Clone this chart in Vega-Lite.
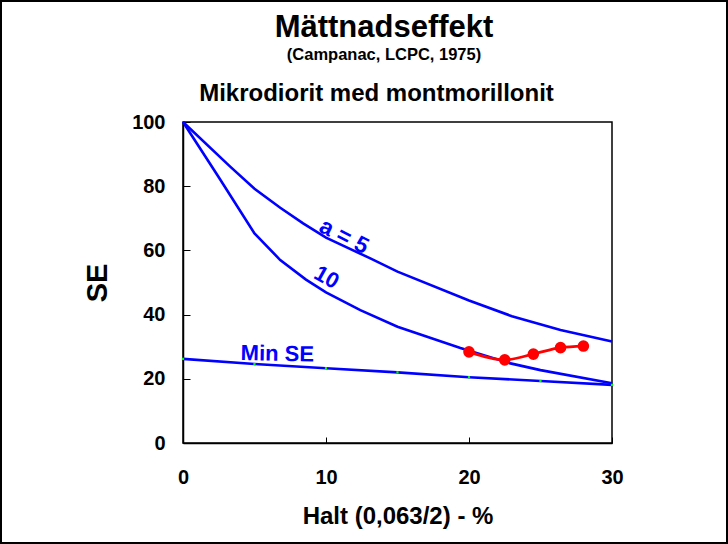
{
  "$schema": "https://vega.github.io/schema/vega-lite/v6.json",
  "width": 726,
  "height": 542,
  "padding": 1,
  "autosize": {"type": "none"},
  "background": "white",
  "config": {
    "view": {"stroke": "black", "strokeWidth": 2},
    "font": "Liberation Sans",
    "axis": {"labelFont": "Liberation Sans", "titleFont": "Liberation Sans", "labelFontWeight": "bold", "titleFontWeight": "bold", "labelColor": "black", "titleColor": "black", "domainColor": "black", "tickColor": "black", "grid": false, "labelFlush": false, "labelOverlap": false}
  },
  "title": {
    "text": "Mättnadseffekt",
    "subtitle": "(Campanac, LCPC, 1975)",
    "font": "Liberation Sans",
    "subtitleFont": "Liberation Sans",
    "fontSize": 31,
    "subtitleFontSize": 16.5,
    "fontWeight": "bold",
    "subtitleFontWeight": "bold",
    "color": "black",
    "subtitleColor": "black",
    "anchor": "middle",
    "frame": "group",
    "offset": -63,
    "dx": 20,
    "subtitlePadding": 3
  },
  "datasets": {
    "curves": [
      {"series": "a5", "x": 0, "se": 100},
      {"series": "a5", "x": 3.3, "se": 86.1},
      {"series": "a5", "x": 5, "se": 79.2},
      {"series": "a5", "x": 6.8, "se": 73.3},
      {"series": "a5", "x": 8.4, "se": 68.4},
      {"series": "a5", "x": 10, "se": 64.0},
      {"series": "a5", "x": 13.1, "se": 57.5},
      {"series": "a5", "x": 15, "se": 53.4},
      {"series": "a5", "x": 20, "se": 44.4},
      {"series": "a5", "x": 23, "se": 39.5},
      {"series": "a5", "x": 26.4, "se": 35.2},
      {"series": "a5", "x": 30, "se": 31.6},
      {"series": "a10", "x": 0, "se": 100},
      {"series": "a10", "x": 2.5, "se": 82.8},
      {"series": "a10", "x": 5, "se": 65.3},
      {"series": "a10", "x": 6.8, "se": 57.0},
      {"series": "a10", "x": 8.6, "se": 50.9},
      {"series": "a10", "x": 10, "se": 46.9},
      {"series": "a10", "x": 12.4, "se": 41.4},
      {"series": "a10", "x": 15, "se": 36.2},
      {"series": "a10", "x": 19.4, "se": 29.6},
      {"series": "a10", "x": 22.9, "se": 24.8},
      {"series": "a10", "x": 25, "se": 22.7},
      {"series": "a10", "x": 30, "se": 18.6},
      {"series": "min", "x": 0, "se": 26.2},
      {"series": "min", "x": 5, "se": 24.6},
      {"series": "min", "x": 10, "se": 23.3},
      {"series": "min", "x": 15, "se": 22.0},
      {"series": "min", "x": 20, "se": 20.5},
      {"series": "min", "x": 25, "se": 19.3},
      {"series": "min", "x": 30, "se": 18.1}
    ],
    "obs": [
      {"x": 20, "se": 28.4},
      {"x": 22.5, "se": 25.9},
      {"x": 24.5, "se": 27.7},
      {"x": 26.4, "se": 29.7},
      {"x": 28, "se": 30.2}
    ],
    "labels": [
      {"label": "a = 5", "x": 11.26, "se": 64.3},
      {"label": "10", "x": 10.05, "se": 51.6},
      {"label": "Min SE", "x": 6.6, "se": 27.8}
    ]
  },
  "resolve": {"axis": {"x": "independent"}},
  "layer": [
    {
      "data": {"values": [{"x0": 0, "x1": 30, "y0": 0, "y1": 100}]},
      "mark": {"type": "rect", "fillOpacity": 0, "stroke": "black", "strokeWidth": 1.5},
      "encoding": {
        "x": {"field": "x0", "type": "quantitative", "scale": {"domain": [0, 30], "range": [182, 611], "nice": false, "zero": false},
          "axis": {"orient": "top", "offset": -121, "domain": false, "ticks": false, "labels": false, "title": "Mikrodiorit med montmorillonit", "titleFontSize": 24, "titlePadding": 17, "titleX": 375}},
        "x2": {"field": "x1"},
        "y": {"field": "y0", "type": "quantitative", "scale": {"domain": [0, 100], "range": [442, 121], "nice": false, "zero": false},
          "axis": {"orient": "left", "offset": -182, "values": [0, 20, 40, 60, 80, 100], "tickSize": -7, "labelPadding": 25, "labelFontSize": 20, "title": "SE", "titleFontSize": 29, "titlePadding": 19, "domainWidth": 1.5}},
        "y2": {"field": "y1"}
      }
    },
    {
      "data": {"name": "curves"},
      "mark": {"type": "line", "strokeWidth": 2.6, "color": "#0000ff"},
      "encoding": {
        "x": {"field": "x", "type": "quantitative",
          "axis": {"orient": "bottom", "offset": -100, "values": [0, 10, 20, 30], "tickSize": -6, "labelPadding": 30, "labelFontSize": 20, "title": "Halt (0,063/2) - %", "titleFontSize": 24, "titlePadding": 17, "domainWidth": 1.5}},
        "y": {"field": "se", "type": "quantitative"},
        "detail": {"field": "series"}
      }
    },
    {
      "data": {"name": "curves"},
      "transform": [{"filter": "datum.series === 'min'"}],
      "mark": {"type": "point", "shape": "square", "filled": true, "size": 5, "color": "#00ff00", "opacity": 1},
      "encoding": {
        "x": {"field": "x", "type": "quantitative", "axis": null},
        "y": {"field": "se", "type": "quantitative"}
      }
    },
    {
      "data": {"name": "obs"},
      "mark": {"type": "line", "strokeWidth": 2.8, "color": "#ff0000", "interpolate": "monotone"},
      "encoding": {
        "x": {"field": "x", "type": "quantitative", "axis": null},
        "y": {"field": "se", "type": "quantitative"}
      }
    },
    {
      "data": {"name": "obs"},
      "mark": {"type": "circle", "size": 135, "color": "#ff0000", "opacity": 1},
      "encoding": {
        "x": {"field": "x", "type": "quantitative", "axis": null},
        "y": {"field": "se", "type": "quantitative"}
      }
    },
    {
      "data": {"name": "labels"},
      "transform": [{"filter": "datum.label === 'a = 5'"}],
      "mark": {"type": "text", "angle": 27, "fontSize": 23, "fontWeight": "bold", "font": "Liberation Sans", "color": "#0000ff", "align": "center", "baseline": "middle"},
      "encoding": {
        "x": {"field": "x", "type": "quantitative", "axis": null},
        "y": {"field": "se", "type": "quantitative"},
        "text": {"field": "label"}
      }
    },
    {
      "data": {"name": "labels"},
      "transform": [{"filter": "datum.label === '10'"}],
      "mark": {"type": "text", "angle": 29, "fontSize": 22, "fontWeight": "bold", "font": "Liberation Sans", "color": "#0000ff", "align": "center", "baseline": "middle"},
      "encoding": {
        "x": {"field": "x", "type": "quantitative", "axis": null},
        "y": {"field": "se", "type": "quantitative"},
        "text": {"field": "label"}
      }
    },
    {
      "data": {"name": "labels"},
      "transform": [{"filter": "datum.label === 'Min SE'"}],
      "mark": {"type": "text", "angle": 1, "fontSize": 22, "fontWeight": "bold", "font": "Liberation Sans", "color": "#0000ff", "align": "center", "baseline": "middle"},
      "encoding": {
        "x": {"field": "x", "type": "quantitative", "axis": null},
        "y": {"field": "se", "type": "quantitative"},
        "text": {"field": "label"}
      }
    }
  ]
}
